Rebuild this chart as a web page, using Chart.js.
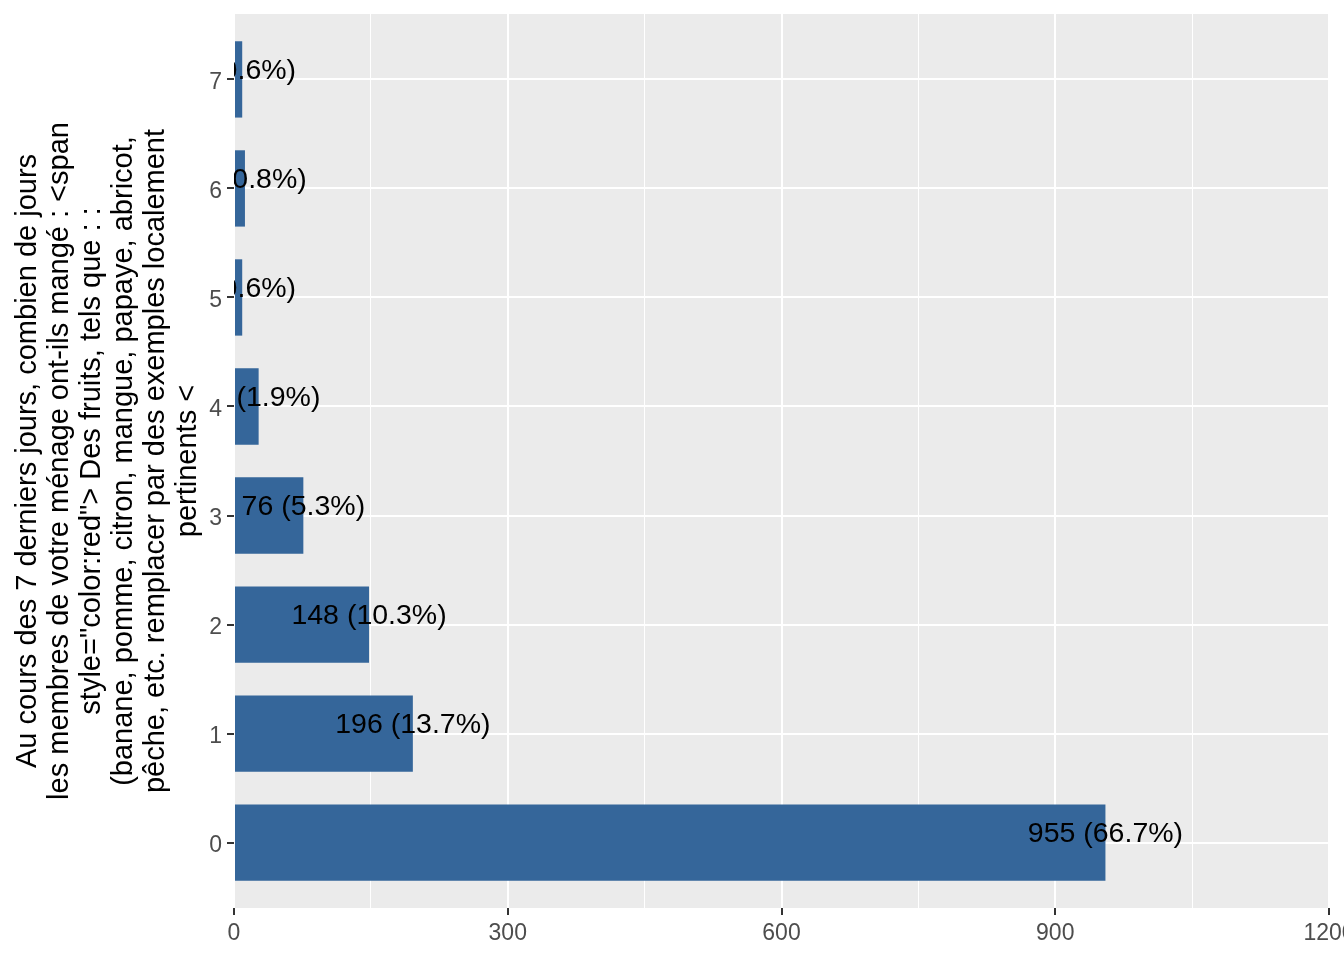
<!DOCTYPE html>
<html>
<head>
<meta charset="utf-8">
<script src="https://cdn.jsdelivr.net/npm/chart.js@4/dist/chart.umd.min.js"></script>
<style>
  html, body { margin:0; padding:0; background:#fff; }
  #wrap { width:1344px; height:960px; position:relative; }
</style>
</head>
<body>
<div id="wrap"><canvas id="chart"></canvas></div>
<script>
// category (days) and counts
const categories = [0, 1, 2, 3, 4, 5, 6, 7];
const counts     = [955, 196, 148, 76, 27, 9, 12, 9];
const percents   = ["66.7%", "13.7%", "10.3%", "5.3%", "1.9%", "0.6%", "0.8%", "0.6%"];
const xTicks     = [0, 300, 600, 900, 1200];
const yTitle = [
  "Au cours des 7 derniers jours, combien de jours",
  "les membres de votre ménage ont-ils mangé : <span",
  "style=\"color:red\"> Des fruits, tels que : :",
  "(banane, pomme, citron, mangue, papaye, abricot,",
  "pêche, etc. remplacer par des exemples localement",
  "pertinents <"
];

const COLORS = { bar:"#35669A", panel:"#EBEBEB", grid:"#FFFFFF", tick:"#333333", tickText:"#4D4D4D", ink:"#000000" };
const FONT = "'Liberation Sans', Arial, sans-serif";

const panelBg = {
  id:"panelBg",
  beforeDraw(chart){
    const { ctx, chartArea:a } = chart;
    ctx.save();
    ctx.fillStyle = COLORS.panel;
    ctx.fillRect(a.left, a.top, a.right - a.left, a.bottom - a.top);
    ctx.restore();
  }
};

const barLabels = {
  id:"barLabels",
  afterDatasetsDraw(chart){
    const { ctx, chartArea:a } = chart;
    const meta = chart.getDatasetMeta(0);
    const xs = chart.scales.x;
    ctx.save();
    ctx.beginPath();
    ctx.rect(a.left, a.top, a.right - a.left, a.bottom - a.top);
    ctx.clip();
    ctx.font = "28.5px " + FONT;
    ctx.fillStyle = COLORS.ink;
    ctx.textAlign = "center";
    ctx.textBaseline = "middle";
    meta.data.forEach((bar, i) => {
      ctx.fillText(counts[i] + " (" + percents[i] + ")", xs.getPixelForValue(counts[i]), bar.y - 8);
    });
    ctx.restore();
  }
};

const isMajor = v => xTicks.includes(v);

new Chart(document.getElementById("chart"), {
  type:"bar",
  data:{
    datasets:[{
      data: categories.map((c, i) => ({ x: counts[i], y: c })),
      backgroundColor: COLORS.bar,
      borderWidth: 0,
      barPercentage: 0.7,
      categoryPercentage: 1
    }]
  },
  options:{
    indexAxis:"y",
    responsive:true,
    maintainAspectRatio:false,
    animation:false,
    layout:{ padding:{ top:14, right:15, left:0, bottom:0 } },
    plugins:{ legend:{ display:false }, tooltip:{ enabled:false } },
    scales:{
      x:{
        type:"linear", min:0, max:1200,
        border:{ display:false },
        grid:{
          color: COLORS.grid,
          lineWidth: ctx => isMajor(ctx.tick.value) ? 2 : 1,
          tickColor: ctx => isMajor(ctx.tick.value) ? COLORS.tick : "rgba(0,0,0,0)",
          tickLength: 7, tickWidth: 2
        },
        ticks:{
          stepSize:150, autoSkip:false, maxRotation:0, padding:5,
          color: COLORS.tickText, font:{ family:FONT, size:23 },
          callback: v => isMajor(v) ? String(v) : ""
        },
        afterFit(s){ s.height = 52; s.paddingLeft = 0; s.paddingRight = 0; }
      },
      y:{
        type:"linear", min:-0.6, max:7.6, offset:false,
        border:{ display:false },
        grid:{ offset:false, color: COLORS.grid, lineWidth:2, tickColor: COLORS.tick, tickLength:7, tickWidth:2 },
        ticks:{ padding:5, labelOffset:3, color: COLORS.tickText, font:{ family:FONT, size:23 }, callback: v => String(v) },
        afterBuildTicks(s){ s.ticks = categories.map(v => ({ value:v })); },
        afterFit(s){ s.width = 234; s.paddingTop = 0; s.paddingBottom = 0; },
        title:{
          display:true, text:yTitle, color: COLORS.ink,
          font:{ family:FONT, size:29, lineHeight:"32px" },
          padding:{ top:12, bottom:0 }
        }
      }
    }
  },
  plugins:[panelBg, barLabels]
});
</script>
</body>
</html>
